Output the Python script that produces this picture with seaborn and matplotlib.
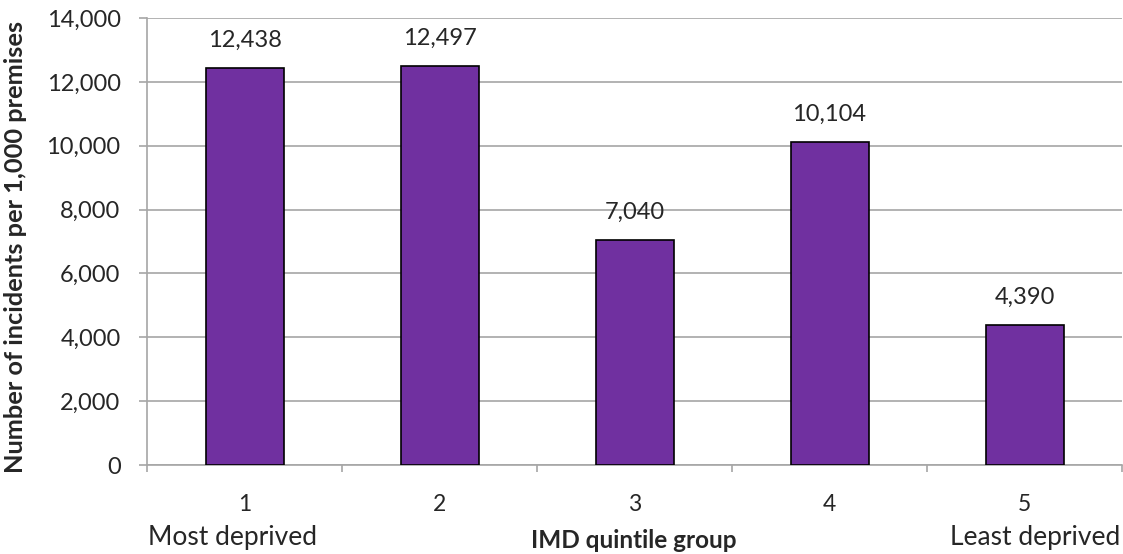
import matplotlib
matplotlib.use("Agg")
import matplotlib.pyplot as plt
import seaborn as sns
import pandas as pd

quintiles = ["1", "2", "3", "4", "5"]
incidents = [12438, 12497, 7040, 10104, 4390]
y_ticks = [0, 2000, 4000, 6000, 8000, 10000, 12000, 14000]

sns.set_theme(style="white")
plt.rcParams["font.family"] = ["Lato", "DejaVu Sans"]

df = pd.DataFrame({"quintile": quintiles, "incidents": incidents})

fig = plt.figure(figsize=(11.23, 5.54), dpi=100)
ax = fig.add_axes([147 / 1123, 1 - 465 / 554, (1122 - 147) / 1123, (465 - 18) / 554])

sns.barplot(data=df, x="quintile", y="incidents", color="#7030A0", width=0.4,
            edgecolor="black", linewidth=1.2, saturation=1, ax=ax, zorder=3)

ax.set_xlim(-0.5, 4.5)
ax.set_ylim(0, 14000)
ax.set_yticks(y_ticks)
ax.set_yticklabels([f"{v:,}" for v in y_ticks], fontsize=17)
ax.yaxis.grid(True, color="#A6A6A6", linewidth=1.2, zorder=0)
ax.set_axisbelow(True)

for side in ["top", "right"]:
    ax.spines[side].set_visible(False)
for side in ["left", "bottom"]:
    ax.spines[side].set_color("#A6A6A6")
    ax.spines[side].set_linewidth(1.2)

ax.tick_params(axis="y", length=6, width=1.2, color="#A6A6A6", pad=13, left=True)
# category labels sit between boundary ticks
ax.set_xticks([i - 0.5 for i in range(6)], minor=False)
ax.set_xticklabels([])
ax.tick_params(axis="x", length=5, width=1.2, color="#A6A6A6", bottom=True, direction="out")
ax.set_xticks(range(5), minor=True)
ax.set_xticklabels(quintiles, minor=True, fontsize=16.5)
ax.tick_params(axis="x", which="minor", length=0, pad=21)

for i, v in enumerate(incidents):
    ax.annotate(f"{v:,}", (i, v), xytext=(0, 20), textcoords="offset points",
                ha="center", va="center", fontsize=17)

ax.set_xlabel("")
ax.set_ylabel("")
fig.text(16 / 1123, 1 - 247 / 554, "Number of incidents per 1,000 premises", fontsize=18.3,
         fontweight="bold", rotation=90, ha="center", va="center")

fig.text(148 / 1123, 1 - 538 / 554, "Most deprived", fontsize=19, ha="left", va="center")
fig.text(1120 / 1123, 1 - 538 / 554, "Least deprived", fontsize=19, ha="right", va="center")
fig.text(634 / 1123, 1 - 540 / 554, "IMD quintile group", fontsize=17.5, fontweight="bold",
         ha="center", va="center")

fig.savefig("out.png", dpi=100)
